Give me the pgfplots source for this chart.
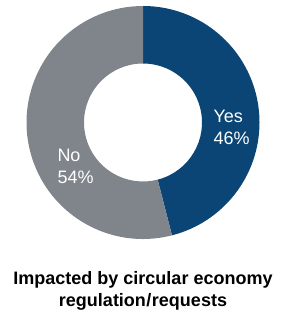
\documentclass[border=0pt]{standalone}
\usepackage{fontspec}
\setmainfont{Liberation Sans}
\usepackage{pgfplots}
\usepackage{pgfplotstable}
\pgfplotsset{compat=1.18}
\definecolor{yescol}{HTML}{0B4575}
\definecolor{nocol}{HTML}{7F858B}
\pgfplotstableread{
label value
Yes 46
No 54
}\shares
\begin{document}
\begin{tikzpicture}
\useasboundingbox (0,0) rectangle (281pt,313pt);
\pgfplotstablegetelem{0}{value}\of\shares \let\yesval\pgfplotsretval
\pgfplotstablegetelem{1}{value}\of\shares \let\noval\pgfplotsretval
\pgfmathsetmacro{\aA}{90}
\pgfmathsetmacro{\aB}{90-3.6*\yesval}
\pgfmathsetmacro{\aC}{\aB-3.6*\noval}
\def\cx{143}\def\cy{190.5}\def\R{116.5}\def\r{59}
\begin{axis}[
  at={(0,0)}, anchor=origin,
  x=1pt, y=1pt,
  xmin=0, xmax=281, ymin=0, ymax=313,
  hide axis, clip=false,
]
\fill[yescol] (axis cs:{\cx+\R*cos(\aA)},{\cy+\R*sin(\aA)})
  arc[start angle=\aA, end angle=\aB, radius=\R pt]
  -- (axis cs:{\cx+\r*cos(\aB)},{\cy+\r*sin(\aB)})
  arc[start angle=\aB, end angle=\aA, radius=\r pt] -- cycle;
\fill[nocol] (axis cs:{\cx+\R*cos(\aB)},{\cy+\R*sin(\aB)})
  arc[start angle=\aB, end angle=\aC, radius=\R pt]
  -- (axis cs:{\cx+\r*cos(\aC)},{\cy+\r*sin(\aC)})
  arc[start angle=\aC, end angle=\aB, radius=\r pt] -- cycle;
\node[anchor=base west, inner sep=0pt, text=white, font=\fontsize{18}{22}\selectfont] at (axis cs:213.3,190.3) {Yes};
\node[anchor=base west, inner sep=0pt, text=white, font=\fontsize{18}{22}\selectfont] at (axis cs:213.3,168) {\yesval\%};
\node[anchor=base west, inner sep=0pt, text=white, font=\fontsize{18}{22}\selectfont] at (axis cs:57.3,151.3) {No};
\node[anchor=base west, inner sep=0pt, text=white, font=\fontsize{18}{22}\selectfont] at (axis cs:57.3,129.7) {\noval\%};
\node[anchor=base, inner sep=0pt, font=\fontsize{18}{22}\selectfont\bfseries] at (axis cs:143,28) {Impacted by circular economy};
\node[anchor=base, inner sep=0pt, font=\fontsize{18}{22}\selectfont\bfseries] at (axis cs:143,6.5) {regulation\kern0.5pt/\kern0.5pt requests};
\end{axis}
\end{tikzpicture}
\end{document}
